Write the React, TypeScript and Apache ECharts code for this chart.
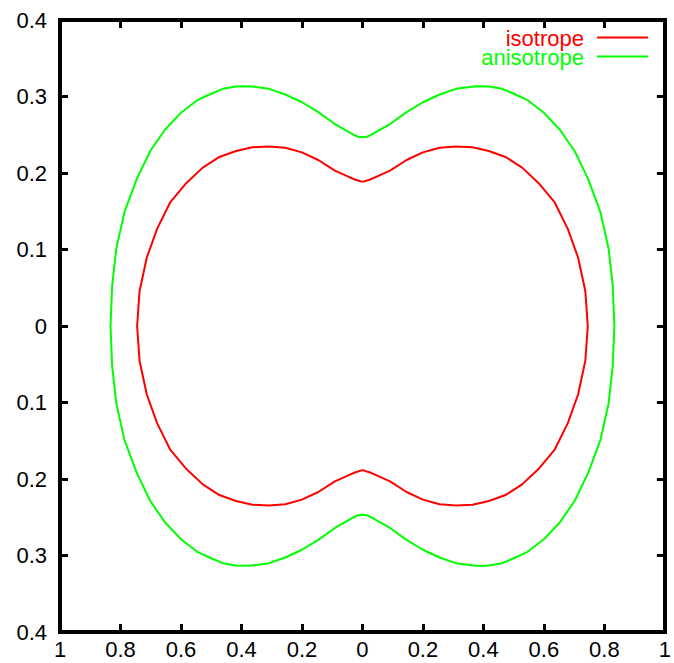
import React, { useEffect, useRef } from "react";
import * as echarts from "echarts";

// Upper-right quarter of each closed curve,
// from the top of the curve (x = 0) round to the right-hand extreme (y = 0).
// The curves are symmetric about both axes.
const isotropeQuarter: number[][] = [
  [0, 0.1884],
  [0.0255, 0.1915],
  [0.047, 0.1952],
  [0.091, 0.203],
  [0.146, 0.217],
  [0.2, 0.227],
  [0.255, 0.233],
  [0.309, 0.2346],
  [0.364, 0.2337],
  [0.418, 0.2288],
  [0.473, 0.221],
  [0.528, 0.207],
  [0.582, 0.187],
  [0.635, 0.162],
  [0.679, 0.127],
  [0.713, 0.0895],
  [0.737, 0.0455],
  [0.745, 0],
];

const anisotropeQuarter: number[][] = [
  [0, 0.2467],
  [0.0147, 0.2474],
  [0.03, 0.2502],
  [0.047, 0.254],
  [0.091, 0.264],
  [0.146, 0.2795],
  [0.2, 0.2925],
  [0.255, 0.3026],
  [0.309, 0.31],
  [0.375, 0.3135],
  [0.418, 0.313],
  [0.462, 0.31],
  [0.506, 0.3026],
  [0.544, 0.2957],
  [0.598, 0.2795],
  [0.653, 0.2565],
  [0.702, 0.2285],
  [0.746, 0.1924],
  [0.787, 0.1488],
  [0.814, 0.1009],
  [0.8275, 0.0529],
  [0.833, 0],
];

const seriesNames = ["isotrope", "anisotrope"];
const seriesColors = ["#ff0000", "#00ff00"];

const xTicks = { min: -1, max: 1, interval: 0.2 };
const yTicks = { min: -0.4, max: 0.4, interval: 0.1 };

// Build the closed curve by mirroring the quarter through both axes.
function closedCurve(q: number[][]): number[][] {
  const a = q.map(([x, y]) => [x, y]);
  const b = q.slice(0, -1).reverse().map(([x, y]) => [x, -y]);
  const c = q.slice(1).map(([x, y]) => [-x, -y]);
  const d = q.slice(0, -1).reverse().map(([x, y]) => [-x, y]);
  return [...a, ...b, ...c, ...d];
}

const FONT = "'Liberation Sans', Arial, Helvetica, sans-serif";

export default function App() {
  const ref = useRef<HTMLDivElement>(null);

  useEffect(() => {
    if (!ref.current) return;
    const chart = echarts.init(ref.current, null, { renderer: "svg" });
    const fmt = (v: number) => String(Math.abs(Math.round(v * 10) / 10));
    const axisLine = { show: true, onZero: false, lineStyle: { color: "#000", width: 4 } };
    const tickStyle = { show: true, inside: true, length: 8, lineStyle: { color: "#000", width: 3 } };
    const labelStyle = { color: "#000", fontFamily: FONT, fontSize: 22 };

    chart.setOption({
      animation: false,
      backgroundColor: "#fff",
      grid: { left: 60, right: 3, top: 20, bottom: 31 },
      xAxis: [
        {
          type: "value",
          position: "bottom",
          ...xTicks,
          axisLine,
          axisTick: tickStyle,
          splitLine: { show: false },
          axisLabel: { ...labelStyle, margin: 6, formatter: fmt, showMinLabel: true, showMaxLabel: true },
        },
        {
          type: "value",
          position: "top",
          ...xTicks,
          axisLine,
          axisTick: tickStyle,
          splitLine: { show: false },
          axisLabel: { show: false },
        },
      ],
      yAxis: [
        {
          type: "value",
          position: "left",
          ...yTicks,
          axisLine,
          axisTick: tickStyle,
          splitLine: { show: false },
          axisLabel: { ...labelStyle, margin: 13, formatter: fmt, showMinLabel: true, showMaxLabel: true },
        },
        {
          type: "value",
          position: "right",
          ...yTicks,
          axisLine,
          axisTick: tickStyle,
          splitLine: { show: false },
          axisLabel: { show: false },
        },
      ],
      series: [isotropeQuarter, anisotropeQuarter].map((q, i) => ({
        name: seriesNames[i],
        type: "line",
        data: closedCurve(q),
        showSymbol: false,
        symbol: "none",
        smooth: false,
        lineStyle: { color: seriesColors[i], width: 2 },
        itemStyle: { color: seriesColors[i] },
      })),
    });

    // Corner squares so the thick border closes, plus the key.
    const [x0, y0] = chart.convertToPixel({ gridIndex: 0 }, [xTicks.min, yTicks.max]) as number[];
    const [x1, y1] = chart.convertToPixel({ gridIndex: 0 }, [xTicks.max, yTicks.min]) as number[];
    const corners = [
      [x0, y0],
      [x1, y0],
      [x0, y1],
      [x1, y1],
    ];

    chart.setOption({
      graphic: [
        ...corners.map(([cx, cy]) => ({
          type: "rect",
          shape: { x: cx - 2, y: cy - 2, width: 4, height: 4 },
          style: { fill: "#000" },
          z: 10,
        })),
        {
          type: "text",
          x: 584,
          y: 28.5,
          style: {
            text: `{r|${seriesNames[0]}}\n{g|${seriesNames[1]}}`,
            align: "right",
            verticalAlign: "top",
            rich: {
              r: { fill: seriesColors[0], font: `22px ${FONT}`, lineHeight: 19 },
              g: { fill: seriesColors[1], font: `22px ${FONT}`, lineHeight: 19 },
            },
          },
        },
        ...seriesColors.map((c, i) => ({
          type: "line",
          shape: { x1: 597, y1: 37.5 + i * 19, x2: 648, y2: 37.5 + i * 19 },
          style: { stroke: c, lineWidth: 2 },
        })),
      ],
    });

    return () => chart.dispose();
  }, []);

  return (
    <div
      ref={ref}
      style={{ position: "fixed", left: 0, top: 0, width: 674, height: 663, background: "#fff" }}
    />
  );
}
